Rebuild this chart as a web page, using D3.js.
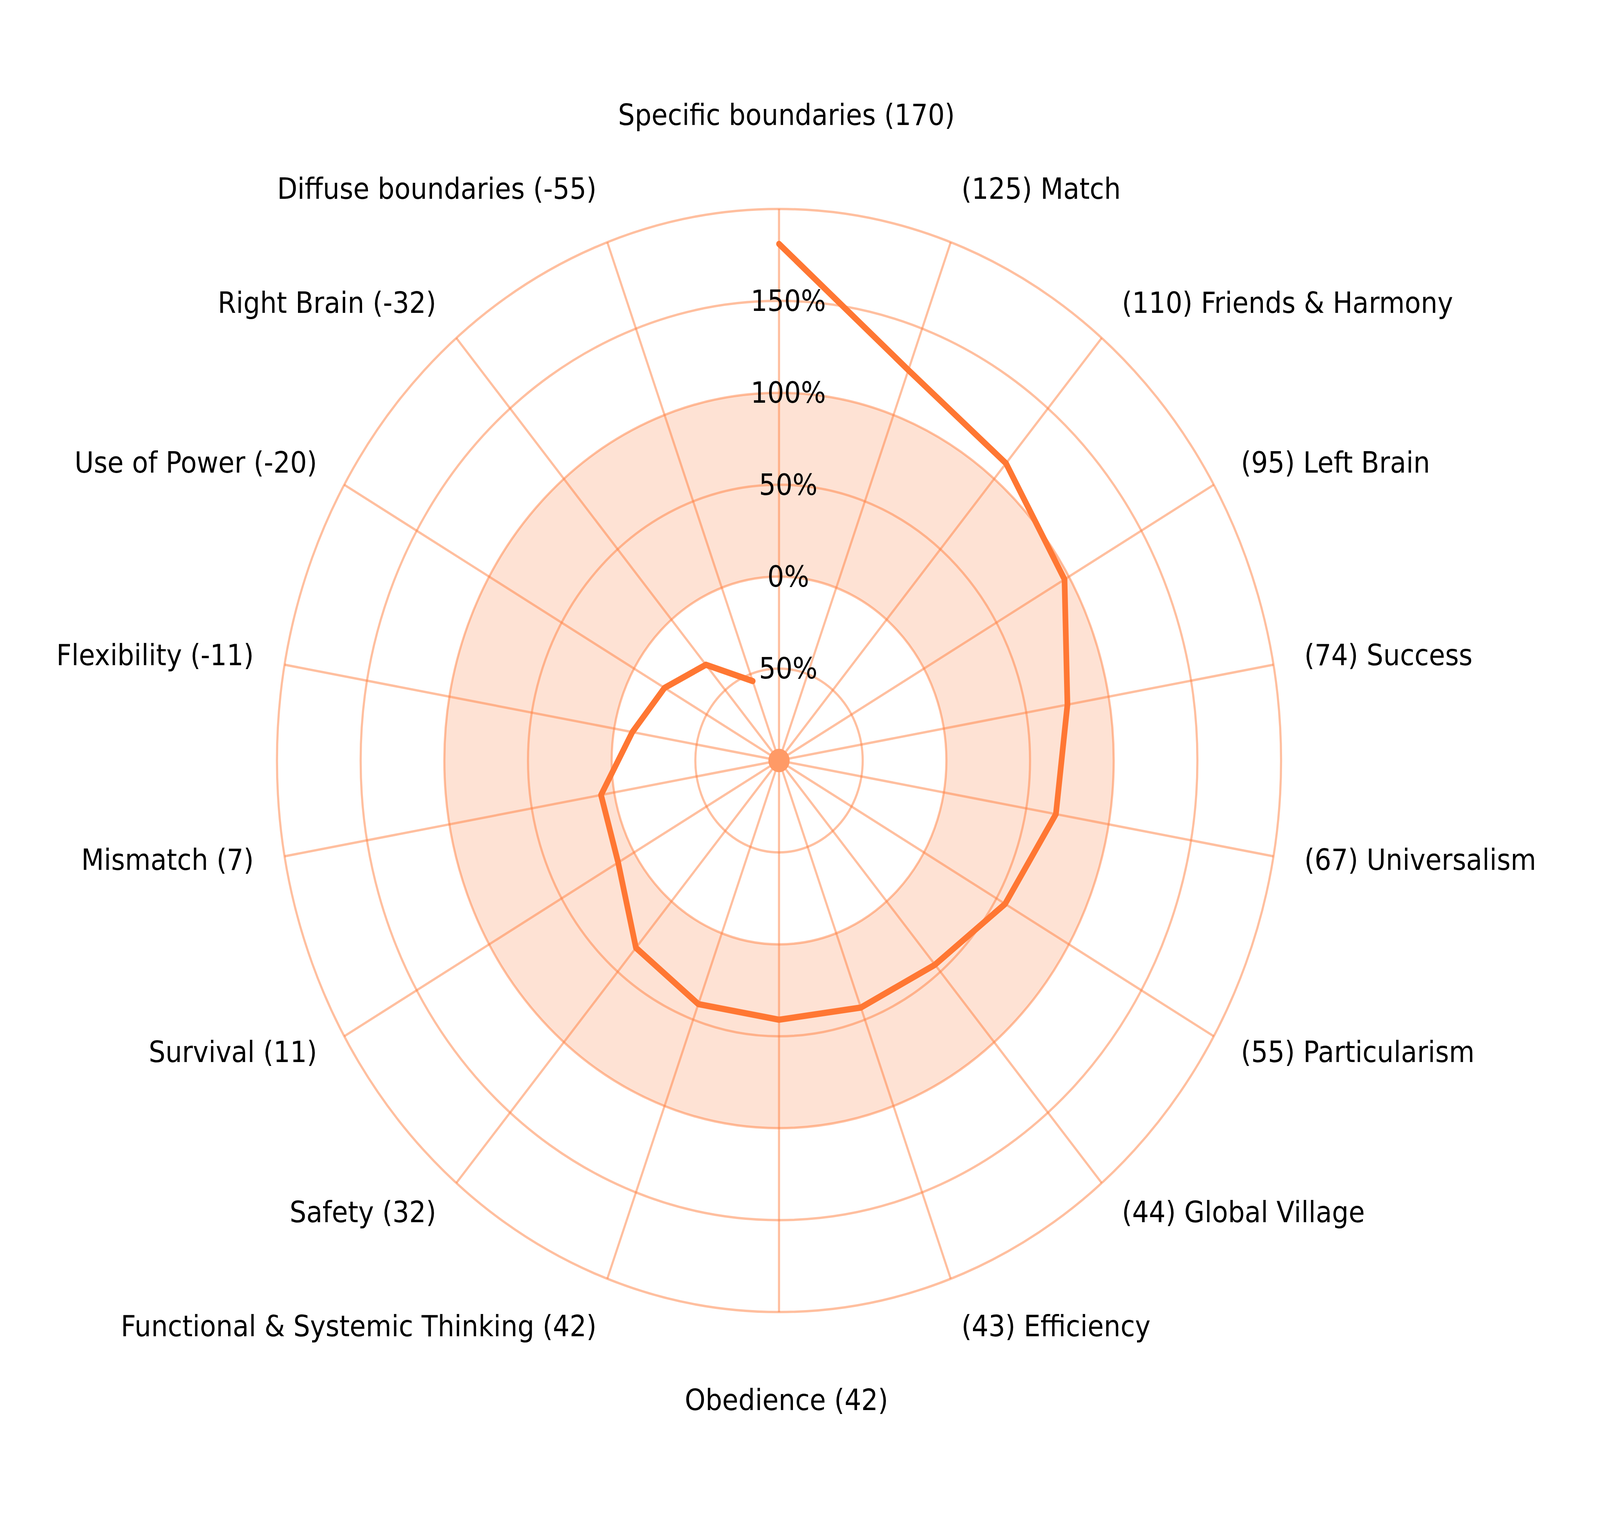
<!DOCTYPE html>
<html>
<head>
<meta charset="utf-8">
<script src="https://cdn.jsdelivr.net/npm/d3@7"></script>
<style>
  html, body { margin: 0; padding: 0; background: #ffffff; overflow: hidden; }
  svg { display: block; }
</style>
</head>
<body>
<script>
// ---- data ----
const categories = [
  "Specific boundaries (170)",
  "(125) Match",
  "(110) Friends & Harmony",
  "(95) Left Brain",
  "(74) Success",
  "(67) Universalism",
  "(55) Particularism",
  "(44) Global Village",
  "(43) Efficiency",
  "Obedience (42)",
  "Functional & Systemic Thinking (42)",
  "Safety (32)",
  "Survival (11)",
  "Mismatch (7)",
  "Flexibility (-11)",
  "Use of Power (-20)",
  "Right Brain (-32)",
  "Diffuse boundaries (-55)"
];
const seriesValues = [181, 126, 111, 97, 75, 68, 56, 45, 43, 41, 41, 33, 11, 8, -11, -21, -32, -54];
const gridValues = [-50, 0, 50, 100, 150, 200];
const tickValues = [-50, 0, 50, 100, 150];
const tickLabels = ["50%", "0%", "50%", "100%", "150%"];
const bandRange = [0, 100];

// ---- layout (designed on a 4500 x 3894 canvas, fitted to the window) ----
const W = 4500, H = 3894;
const cx = 2191, cy = 1947;
const outerR = 1412;
const FONT = "'DejaVu Sans', 'Noto Sans', sans-serif";
const FS = 74;

const vw = window.innerWidth || W, vh = window.innerHeight || H;
const svg = d3.select("body").append("svg")
  .attr("width", vw).attr("height", vh)
  .attr("viewBox", `0 0 ${W} ${H}`)
  .attr("preserveAspectRatio", "none");
svg.append("rect").attr("width", W).attr("height", H).attr("fill", "#ffffff");

const g = svg.append("g").attr("transform", `translate(${cx},${cy})`);

const r = d3.scaleLinear().domain([-100, 200]).range([0, outerR]);
const n = categories.length;
const angle = d3.scaleLinear().domain([0, n]).range([0, 2 * Math.PI]);

const gridColor = "#ff7f3f";
const gridOpacity = 0.5;
const gridWidth = 6;

// shaded band 0%..100%
g.append("path")
  .attr("d", d3.arc()({innerRadius: r(bandRange[0]), outerRadius: r(bandRange[1]), startAngle: 0, endAngle: 2 * Math.PI}))
  .attr("fill", "#fee2d4");

// circles
g.selectAll("circle.grid").data(gridValues).join("circle")
  .attr("class", "grid")
  .attr("r", d => r(d))
  .attr("fill", "none")
  .attr("stroke", gridColor)
  .attr("stroke-opacity", gridOpacity)
  .attr("stroke-width", gridWidth);

// spokes
g.selectAll("line.spoke").data(d3.range(n)).join("line")
  .attr("class", "spoke")
  .attr("x1", 0).attr("y1", 0)
  .attr("x2", i => r(200) * Math.sin(angle(i)))
  .attr("y2", i => -r(200) * Math.cos(angle(i)))
  .attr("stroke", gridColor)
  .attr("stroke-opacity", gridOpacity)
  .attr("stroke-width", gridWidth);

// center dot
g.append("circle").attr("r", 30).attr("fill", "#ff9a66");

// data line (open)
const line = d3.lineRadial()
  .angle((d, i) => angle(i))
  .radius(d => r(d));
g.append("path")
  .attr("d", line(seriesValues))
  .attr("fill", "none")
  .attr("stroke", "#ff7733")
  .attr("stroke-width", 16)
  .attr("stroke-linecap", "round")
  .attr("stroke-linejoin", "round");

// radial tick labels
g.selectAll("text.tick").data(tickValues).join("text")
  .attr("class", "tick")
  .attr("x", 26)
  .attr("y", d => -r(d))
  .attr("text-anchor", "middle")
  .attr("dominant-baseline", "central")
  .attr("font-family", FONT)
  .attr("font-size", FS)
  .attr("fill", "#000")
  .text((d, i) => tickLabels[i]);

// category labels
const labR = 1500;
g.selectAll("text.cat").data(categories).join("text")
  .attr("class", "cat")
  .each(function(d, i) {
    const a = angle(i);
    const s = Math.sin(a), c = Math.cos(a);
    const deg = (a * 180 / Math.PI);
    const fromVert = Math.min(Math.abs(deg), Math.abs(180 - deg), Math.abs(360 - deg));
    const extra = 145 * Math.exp(-fromVert / 17.6);
    let x = labR * s;
    let y = -labR * c - 8 + (c >= 0 ? -extra : extra);
    let anchor = "middle";
    if (s > 0.01) anchor = "start";
    else if (s < -0.01) anchor = "end";
    else x += 21;
    d3.select(this)
      .attr("x", x).attr("y", y)
      .attr("text-anchor", anchor)
      .attr("dominant-baseline", "central");
  })
  .attr("font-family", FONT)
  .attr("font-size", FS)
  .attr("fill", "#000")
  .text(d => d);
</script>
</body>
</html>
